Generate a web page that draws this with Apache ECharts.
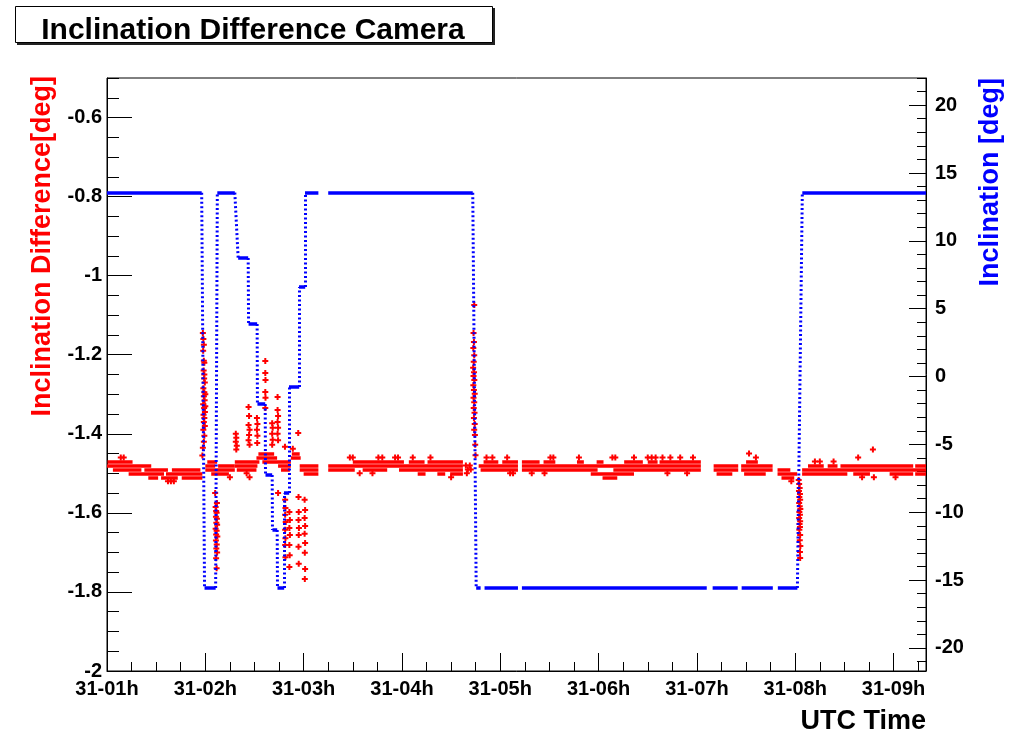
<!DOCTYPE html>
<html><head><meta charset="utf-8">
<script src="https://cdn.jsdelivr.net/npm/echarts@6/dist/echarts.min.js"></script>
<style>html,body{margin:0;padding:0;background:#fff}#c{width:1017px;height:743px}</style>
</head><body><div id="c"></div>
<script>
// ---- axis ticks / labels ----
const xTickValues = [1,2,3,4,5,6,7,8,9];
const xTickLabels = ['31-01h','31-02h','31-03h','31-04h','31-05h','31-06h','31-07h','31-08h','31-09h'];
const leftTickValues = [-2,-1.8,-1.6,-1.4,-1.2,-1,-0.8,-0.6];
const rightTickValues = [-20,-15,-10,-5,0,5,10,15,20];

// ---- Inclination (blue, right axis, deg) ----
// horizontal runs: [tStart(h), tEnd(h), value]
const blueRuns = [
 [1.000,1.963,13.55],[1.992,2.105,-15.58],[2.122,2.300,13.55],[2.334,2.436,8.73],
 [2.440,2.527,3.87],[2.530,2.609,-2.02],[2.612,2.680,-7.26],[2.683,2.731,-11.31],
 [2.734,2.802,-15.58],[2.800,2.853,-8.58],[2.851,2.955,-0.77],[2.953,3.016,6.60],
 [3.014,3.150,13.55],[3.250,4.720,13.55],[4.755,4.800,-15.58],[4.840,5.180,-15.58],
 [5.220,7.100,-15.58],[7.160,7.415,-15.58],[7.455,7.772,-15.58],[7.823,8.022,-15.58],
 [8.072,9.330,13.55]
];
// transitions: [t0, v0, t1, v1]
const blueRamps = [
 [1.963,13.55,1.992,-15.58],[2.105,-15.58,2.122,13.55],[2.300,13.55,2.334,8.73],
 [2.436,8.73,2.440,3.87],[2.527,3.87,2.530,-2.02],[2.609,-2.02,2.612,-7.26],
 [2.680,-7.26,2.683,-11.31],[2.731,-11.31,2.734,-15.58],[2.802,-15.58,2.800,-8.58],
 [2.853,-8.58,2.851,-0.77],[2.955,-0.77,2.953,6.60],[3.016,6.60,3.014,13.55],
 [4.720,13.55,4.755,-15.58],[8.022,-15.58,8.072,13.55]
];

// ---- Inclination difference (red, left axis, deg) ----
// quantised rows: [tStart, tEnd, value]
const redRuns = [
 [1.005,1.26,-1.47],[1.00,1.45,-1.48],[1.06,1.35,-1.49],[1.38,1.62,-1.49],
 [1.22,1.58,-1.50],[1.60,1.97,-1.50],[1.42,1.52,-1.51],[1.55,1.72,-1.51],[1.76,1.97,-1.51],
 [1.66,1.95,-1.49],
 [2.00,2.10,-1.48],[2.13,2.30,-1.48],[2.00,2.30,-1.49],[2.06,2.24,-1.50],[2.02,2.12,-1.47],
 [2.30,2.55,-1.47],[2.30,2.53,-1.48],[2.32,2.52,-1.49],
 [2.54,2.70,-1.45],[2.52,2.73,-1.46],[2.58,2.87,-1.47],[2.74,2.87,-1.48],[2.77,2.86,-1.49],
 [2.88,2.96,-1.45],[2.87,2.97,-1.46],[2.96,3.15,-1.48],[2.96,3.15,-1.49],[3.00,3.15,-1.50],
 [3.25,4.62,-1.48],[3.25,3.52,-1.49],[3.97,4.62,-1.49],[3.60,3.85,-1.49],
 [3.50,4.02,-1.47],[4.07,4.23,-1.47],[4.26,4.62,-1.47],
 [4.16,4.24,-1.50],[4.36,4.44,-1.50],[4.49,4.62,-1.50],
 [4.83,4.98,-1.47],[5.02,5.18,-1.47],[4.78,5.18,-1.48],[4.80,5.18,-1.49],
 [5.22,5.40,-1.47],[5.44,5.56,-1.47],[5.78,5.85,-1.47],[5.98,6.05,-1.47],
 [6.26,6.45,-1.47],[6.50,6.60,-1.47],[6.62,7.04,-1.47],
 [5.22,7.04,-1.48],[5.22,5.99,-1.49],[6.15,7.04,-1.49],[5.92,6.36,-1.50],[6.04,6.19,-1.51],
 [7.17,7.42,-1.48],[7.17,7.42,-1.49],[7.20,7.36,-1.50],
 [7.50,7.62,-1.47],[7.45,7.77,-1.48],[7.45,7.77,-1.49],[7.48,7.70,-1.50],
 [7.82,7.95,-1.49],[7.82,8.02,-1.50],[7.86,7.99,-1.51],
 [8.13,8.29,-1.48],[8.33,8.43,-1.48],[8.46,9.20,-1.48],[9.22,9.33,-1.48],
 [8.07,9.33,-1.49],
 [8.07,8.53,-1.50],[8.59,8.76,-1.50],[8.96,9.20,-1.50],[9.22,9.33,-1.50]
];
// individual points: [t, value]
const redPoints = [
 // spike near 31-02h (upwards)
 [1.975,-1.145],[1.980,-1.160],[1.985,-1.175],[1.978,-1.190],[1.985,-1.215],[1.990,-1.220],
 [1.983,-1.240],[1.990,-1.250],[1.988,-1.260],[1.995,-1.270],[1.980,-1.285],[1.990,-1.295],
 [1.985,-1.305],[1.993,-1.315],[1.978,-1.325],[2.000,-1.330],[1.988,-1.335],[1.996,-1.345],
 [1.982,-1.352],[1.990,-1.360],[1.985,-1.370],[1.995,-1.380],[1.980,-1.390],[1.990,-1.405],
 [1.985,-1.420],[1.975,-1.435],[1.970,-1.455],[2.000,-1.300],
 // spike near 31-02h (downwards)
 [2.100,-1.550],[2.118,-1.575],[2.105,-1.585],[2.110,-1.595],[2.115,-1.600],[2.108,-1.610],
 [2.118,-1.615],[2.112,-1.625],[2.120,-1.630],[2.105,-1.640],[2.115,-1.645],[2.110,-1.655],
 [2.122,-1.660],[2.108,-1.670],[2.116,-1.680],[2.112,-1.690],[2.120,-1.700],[2.110,-1.715],
 [2.115,-1.740],
 // scattered during the step sequence, above the band
 [2.310,-1.400],[2.315,-1.410],[2.310,-1.420],[2.320,-1.430],[2.315,-1.440],
 [2.440,-1.332],[2.445,-1.355],[2.440,-1.378],[2.450,-1.390],[2.445,-1.403],[2.440,-1.416],[2.450,-1.428],
 [2.525,-1.360],[2.530,-1.375],[2.525,-1.390],[2.530,-1.405],[2.528,-1.423],
 [2.610,-1.216],[2.610,-1.246],[2.612,-1.264],[2.610,-1.294],[2.612,-1.309],[2.610,-1.335],
 [2.680,-1.373],[2.685,-1.385],[2.680,-1.400],[2.685,-1.415],[2.680,-1.428],
 [2.735,-1.307],[2.735,-1.340],[2.740,-1.355],[2.735,-1.370],[2.740,-1.385],[2.735,-1.400],[2.740,-1.416],
 [2.810,-1.433],[2.890,-1.438],[2.945,-1.398],
 // scattered below the band
 [2.740,-1.550],
 [2.812,-1.567],[2.815,-1.588],[2.812,-1.605],[2.818,-1.623],[2.812,-1.643],[2.815,-1.664],[2.812,-1.681],[2.815,-1.712],
 [2.855,-1.598],[2.860,-1.618],[2.855,-1.638],[2.860,-1.656],[2.855,-1.681],[2.858,-1.707],[2.855,-1.737],
 [2.948,-1.560],[2.950,-1.598],[2.948,-1.618],[2.952,-1.638],[2.950,-1.656],[2.948,-1.686],[2.950,-1.729],
 [3.010,-1.567],[3.015,-1.593],[3.010,-1.613],[3.015,-1.633],[3.010,-1.653],[3.015,-1.676],[3.012,-1.701],[3.015,-1.742],[3.012,-1.767],
 // gap before the drop near 31-05h
 [4.65,-1.48],[4.67,-1.49],[4.69,-1.48],[4.70,-1.49],[4.66,-1.50],
 // spike near 31-05h (upwards)
 [4.735,-1.074],[4.728,-1.145],[4.732,-1.168],[4.726,-1.183],[4.735,-1.201],[4.730,-1.218],
 [4.724,-1.233],[4.733,-1.244],[4.728,-1.254],[4.736,-1.264],[4.726,-1.277],[4.732,-1.289],
 [4.740,-1.299],[4.728,-1.309],[4.735,-1.320],[4.730,-1.335],[4.738,-1.347],[4.732,-1.360],
 [4.740,-1.375],[4.735,-1.390],[4.742,-1.403],[4.745,-1.428],[4.748,-1.454],
 // spike near 31-08h (downwards)
 [8.035,-1.517],[8.040,-1.527],[8.045,-1.537],[8.038,-1.545],[8.048,-1.552],[8.042,-1.560],
 [8.050,-1.567],[8.040,-1.575],[8.046,-1.583],[8.052,-1.590],[8.042,-1.598],[8.048,-1.605],
 [8.040,-1.613],[8.050,-1.621],[8.044,-1.628],[8.048,-1.636],[8.042,-1.643],[8.050,-1.656],
 [8.046,-1.669],[8.052,-1.684],[8.048,-1.699],[8.050,-1.714],
 // sparse outliers
 [1.14,-1.46],[1.17,-1.46],[1.62,-1.52],[1.65,-1.52],[1.68,-1.52],
 [2.25,-1.51],[2.42,-1.50],[2.45,-1.51],
 [3.47,-1.46],[3.50,-1.46],[3.76,-1.46],[3.80,-1.46],[3.93,-1.46],[3.96,-1.46],[3.57,-1.50],[3.70,-1.50],
 [4.11,-1.46],[4.29,-1.46],[4.50,-1.51],
 [4.86,-1.46],[4.92,-1.46],[5.07,-1.46],[5.10,-1.50],[5.13,-1.50],
 [5.51,-1.46],[5.54,-1.46],[5.80,-1.46],[6.14,-1.46],[6.17,-1.46],[6.36,-1.46],[6.50,-1.46],
 [6.54,-1.46],[6.58,-1.46],[6.65,-1.46],[6.73,-1.46],[6.83,-1.46],[6.96,-1.46],
 [5.32,-1.50],[5.45,-1.50],[6.70,-1.50],[6.90,-1.50],
 [7.53,-1.45],[7.60,-1.46],[7.96,-1.52],[8.20,-1.47],[8.25,-1.47],[8.39,-1.47],
 [8.64,-1.46],[8.79,-1.44],[9.02,-1.51],[8.68,-1.51],[8.80,-1.51]
];

// ---- ranges ----
const X_MIN = 1, X_MAX = 9.33;
const L_MIN = -2, L_MAX = -0.5;
const R_MIN = -21.7, R_MAX = 22.0;

function steps(a, b, s){ const o=[]; for(let i=0;;i++){ const v=+(a+i*s).toFixed(4); if(v>b+1e-9) break; o.push(v);} return o; }
const xMinor = steps(1, 9.25, 0.25);
const leftMinor = steps(-2, -0.5, 0.05);
const rightMinor = steps(-21, 22, 1);

const FONT = '"Liberation Sans", Arial, Helvetica, sans-serif';
const lbl = {color:'#000', fontSize:20, fontWeight:'bold', fontFamily:FONT};
const plus = 'path://M2,0H4V2H6V4H4V6H2V4H0V2H2Z';

const chart = echarts.init(document.getElementById('c'), null, {renderer:'canvas'});
chart.setOption({
  animation:false,
  backgroundColor:'#fff',
  grid:{left:107, right:91, top:78, bottom:72, show:true, borderColor:'#000', borderWidth:1, backgroundColor:'#fff'},
  xAxis:[
    {type:'value', min:X_MIN, max:X_MAX, position:'bottom',
     axisLine:{show:true, onZero:false, lineStyle:{color:'#000', width:1}},
     axisTick:{show:true, inside:true, length:18, customValues:xTickValues, lineStyle:{color:'#000'}},
     axisLabel:Object.assign({show:true, margin:8, customValues:xTickValues,
       formatter:v=>xTickLabels[xTickValues.indexOf(v)] || ''}, lbl),
     splitLine:{show:false}},
    {type:'value', min:X_MIN, max:X_MAX, position:'bottom',
     axisLine:{show:false, onZero:false},
     axisTick:{show:true, inside:true, length:9, customValues:xMinor, lineStyle:{color:'#000'}},
     axisLabel:{show:false}, splitLine:{show:false}}
  ],
  yAxis:[
    {type:'value', min:L_MIN, max:L_MAX, position:'left',
     axisLine:{show:true, onZero:false, lineStyle:{color:'#000'}},
     axisTick:{show:true, inside:true, length:25, customValues:leftTickValues, lineStyle:{color:'#000'}},
     axisLabel:Object.assign({show:true, margin:5, customValues:leftTickValues, formatter:v=>String(v)}, lbl),
     splitLine:{show:false}},
    {type:'value', min:L_MIN, max:L_MAX, position:'left',
     axisLine:{show:false, onZero:false},
     axisTick:{show:true, inside:true, length:12, customValues:leftMinor, lineStyle:{color:'#000'}},
     axisLabel:{show:false}, splitLine:{show:false}},
    {type:'value', min:R_MIN, max:R_MAX, position:'right',
     axisLine:{show:true, onZero:false, lineStyle:{color:'#000'}},
     axisTick:{show:true, inside:true, length:17, customValues:rightTickValues, lineStyle:{color:'#000'}},
     axisLabel:Object.assign({show:true, margin:9, customValues:rightTickValues, formatter:v=>String(v)}, lbl),
     splitLine:{show:false}},
    {type:'value', min:R_MIN, max:R_MAX, position:'right',
     axisLine:{show:false, onZero:false},
     axisTick:{show:true, inside:true, length:9, customValues:rightMinor, lineStyle:{color:'#000'}},
     axisLabel:{show:false}, splitLine:{show:false}}
  ],
  series:[
    {type:'lines', coordinateSystem:'cartesian2d', xAxisIndex:0, yAxisIndex:0, silent:true, z:2,
     lineStyle:{color:'#ff0000', width:3.5, opacity:1, curveness:0},
     data:redRuns.map(r=>({coords:[[r[0],r[2]],[r[1],r[2]]]}))},
    {type:'scatter', xAxisIndex:0, yAxisIndex:0, silent:true, z:3,
     symbol:plus, symbolSize:6, itemStyle:{color:'#ff0000', opacity:1},
     data:redPoints},
    {type:'lines', coordinateSystem:'cartesian2d', xAxisIndex:0, yAxisIndex:2, silent:true, z:4,
     lineStyle:{color:'#0000ff', width:3, type:[2,2.5], opacity:1, curveness:0},
     data:blueRamps.map(r=>({coords:[[r[0],r[1]],[r[2],r[3]]]}))},
    {type:'lines', coordinateSystem:'cartesian2d', xAxisIndex:0, yAxisIndex:2, silent:true, z:5,
     lineStyle:{color:'#0000ff', width:3.5, opacity:1, curveness:0},
     data:blueRuns.map(r=>({coords:[[r[0],r[2]],[r[1],r[2]]]}))}
  ],
  graphic:[
    {type:'rect', shape:{x:17, y:8, width:478, height:37}, style:{fill:'#222'}, silent:true},
    {type:'rect', shape:{x:15.5, y:6.5, width:477, height:36}, style:{fill:'#fff', stroke:'#000', lineWidth:1}, silent:true},
    {type:'text', x:253, y:31, silent:true,
     style:{text:'Inclination Difference Camera', font:'bold 30px '+FONT, fill:'#000', align:'center', verticalAlign:'middle'}},
    {type:'text', x:43, y:76, rotation:Math.PI/2, silent:true,
     style:{text:'Inclination Difference[deg]', font:'bold 27px '+FONT, fill:'#ff0000', align:'right', verticalAlign:'middle'}},
    {type:'text', x:991, y:78, rotation:Math.PI/2, silent:true,
     style:{text:'Inclination [deg]', font:'bold 27px '+FONT, fill:'#0000ff', align:'right', verticalAlign:'middle'}},
    {type:'text', x:926, y:722, silent:true,
     style:{text:'UTC Time', font:'bold 27px '+FONT, fill:'#000', align:'right', verticalAlign:'middle'}}
  ]
});
</script></body></html>
